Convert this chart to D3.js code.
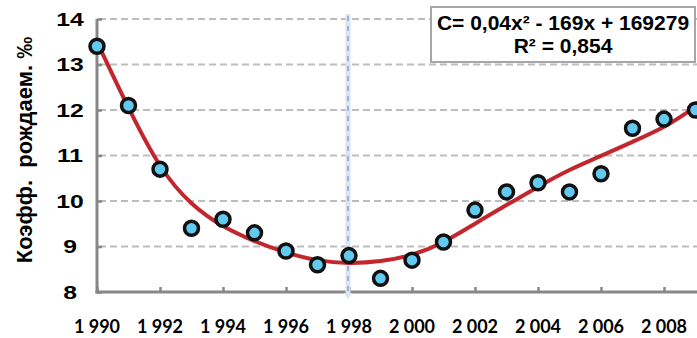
<!DOCTYPE html>
<meta charset="utf-8">
<style>
body { margin: 0; background: #fff; }
text { font-family: "Liberation Sans", Arial, sans-serif; font-weight: bold; }
.xlab { font-family: Lato, "Liberation Sans", sans-serif; }
</style>
<svg width="697" height="338"></svg>
<script src="https://d3js.org/d3.v7.min.js"></script>
<script>

var svg = d3.select("svg");

// data
var years = [1990, 1991, 1992, 1993, 1994, 1995, 1996, 1997, 1998, 1999,
             2000, 2001, 2002, 2003, 2004, 2005, 2006, 2007, 2008, 2009];
var rate = [13.4, 12.1, 10.7, 9.4, 9.6, 9.3, 8.9, 8.6, 8.8, 8.3,
            8.7, 9.1, 9.8, 10.2, 10.4, 10.2, 10.6, 11.6, 11.8, 12.0];
// trend line as drawn (read at each year)
var trend = [13.5, 12.05, 10.78, 9.95, 9.45, 9.12, 8.87, 8.7, 8.64, 8.68,
             8.82, 9.1, 9.5, 9.91, 10.31, 10.68, 10.99, 11.3, 11.63, 12.07];
var yTicks = [8, 9, 10, 11, 12, 13, 14];
var xTicks = [1990, 1992, 1994, 1996, 1998, 2000, 2002, 2004, 2006, 2008];
var markYear = 1998;
var eqLines = ["C= 0,04x\u00b2 - 169x + 169279", "R\u00b2 = 0,854"];
var yTitle = "Коэфф.  рождаем. ‰";

var x = d3.scaleLinear().domain([1990, 2009]).range([97, 695.5]);
var y = d3.scaleLinear().domain([8, 14]).range([292, 19]);

// grid
svg.append("g")
  .selectAll("line")
  .data(yTicks.slice(1))
  .enter().append("line")
    .attr("x1", 99).attr("x2", 697)
    .attr("y1", function(d) { return y(d); })
    .attr("y2", function(d) { return y(d); })
    .attr("stroke", "#bdbdbd")
    .attr("stroke-width", 2)
    .attr("stroke-dasharray", "7,4");

// y axis
var yAxis = svg.append("g").attr("transform", "translate(" + x(1990) + ",0)")
  .call(d3.axisRight(y).tickValues(yTicks).tickSize(5).tickFormat(""));
yAxis.select(".domain").attr("stroke", "#878787").attr("stroke-width", 3)
  .attr("d", "M0," + y(14) + "V" + (y(8) + 1.5));
yAxis.selectAll(".tick line").attr("stroke", "#878787").attr("stroke-width", 2.5);

svg.append("g")
  .selectAll("text")
  .data(yTicks)
  .enter().append("text")
    .attr("transform", function(d) { return "translate(70," + y(d) + ") scale(1.3,1)"; })
    .attr("dy", "0.36em")
    .attr("text-anchor", "middle")
    .attr("font-size", 19)
    .text(function(d) { return d; });

svg.append("text")
  .attr("transform", "translate(32,150) rotate(-90)")
  .attr("text-anchor", "middle")
  .attr("font-size", 22)
  .style("white-space", "pre")
  .text(yTitle);

// x axis
var xAxis = svg.append("g").attr("transform", "translate(0," + y(8) + ")")
  .call(d3.axisTop(x).tickValues(xTicks).tickSize(5).tickFormat(""));
xAxis.select(".domain").attr("stroke", "#878787").attr("stroke-width", 3)
  .attr("d", "M" + (x(1990) - 1.5) + ",0H697");
xAxis.selectAll(".tick line").attr("stroke", "#878787").attr("stroke-width", 2.5);

svg.append("g")
  .selectAll("text")
  .data(xTicks)
  .enter().append("text")
    .attr("class", "xlab")
    .attr("x", function(d) { return x(d); })
    .attr("y", 333)
    .attr("text-anchor", "middle")
    .attr("font-size", 18)
    .style("white-space", "pre")
    .text(function(d) { return String(d).slice(0, 1) + " " + String(d).slice(1); });

// vertical marker at 1998
var mx = x(markYear) - 1;
svg.append("line")
  .attr("x1", mx).attr("x2", mx).attr("y1", 14).attr("y2", 294)
  .attr("stroke", "#dbe4f0").attr("stroke-width", 5);
svg.append("path")
  .attr("d", "M" + (mx - 4) + ",293L" + (mx + 4) + ",293L" + mx + ",299Z")
  .attr("fill", "#dbe4f0");
svg.append("line")
  .attr("x1", mx).attr("x2", mx).attr("y1", 16).attr("y2", 292)
  .attr("stroke", "#4f86c6").attr("stroke-width", 1)
  .attr("stroke-dasharray", "5,5");

// trend curve
var line = d3.line()
  .x(function(d, i) { return x(years[i]); })
  .y(function(d) { return y(d); })
  .curve(d3.curveNatural);

svg.append("path")
  .datum(trend)
  .attr("fill", "none")
  .attr("stroke", "#c1272d")
  .attr("stroke-width", 4)
  .attr("d", line);

// points
svg.append("g")
  .selectAll("circle")
  .data(rate)
  .enter().append("circle")
    .attr("cx", function(d, i) { return x(years[i]); })
    .attr("cy", function(d) { return y(d); })
    .attr("r", 7)
    .attr("fill", "#62c9f0")
    .attr("stroke", "#111")
    .attr("stroke-width", 3.5);

// equation box
svg.append("rect")
  .attr("x", 431).attr("y", 7).attr("width", 264).attr("height", 55)
  .attr("fill", "#fff").attr("stroke", "#a6a6a6").attr("stroke-width", 2);

svg.append("g")
  .selectAll("text")
  .data(eqLines)
  .enter().append("text")
    .attr("x", 563)
    .attr("y", function(d, i) { return 30 + i * 23; })
    .attr("text-anchor", "middle")
    .attr("font-size", 21)
    .text(function(d) { return d; });

</script>
